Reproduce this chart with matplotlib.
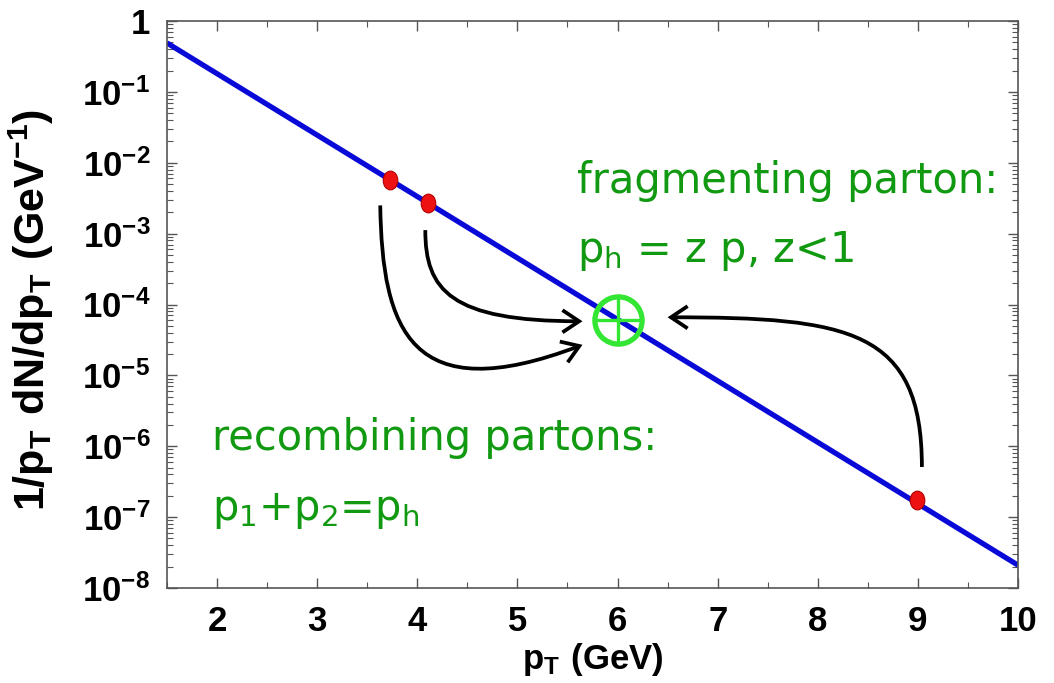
import numpy as np
import matplotlib
matplotlib.use("Agg")
import matplotlib.pyplot as plt
from matplotlib.path import Path
from matplotlib.patches import FancyArrowPatch
from matplotlib.ticker import LogLocator, FuncFormatter, MultipleLocator, NullFormatter

plt.rcParams["mathtext.fontset"] = "custom"
plt.rcParams["mathtext.rm"] = "DejaVu Sans"
plt.rcParams["mathtext.it"] = "DejaVu Sans"
plt.rcParams["mathtext.bf"] = "Liberation Sans:bold"

# spectrum (straight line on log scale)
line_pt = [1.5, 10.0]
line_yield = [0.49, 2.1e-8]

# recombining partons and fragmenting parton
parton_pt = [3.73, 4.11, 8.99]
parton_yield = [5.8e-3, 2.7e-3, 1.75e-7]

# produced hadron
hadron_pt = [6.0]
hadron_yield = [6.0e-5]

x_ticks = [2, 3, 4, 5, 6, 7, 8, 9, 10]

# curved arrows: cubic Bezier (start, ctrl1, ctrl2, end) in (pT, yield)
arrow_outer = [(3.63, 2.5e-3), (3.65, 4.4e-5), (3.93, 3.2e-6), (5.65, 2.7e-5)]
arrow_inner = [(4.08, 1.12e-3), (4.08, 1.6e-4), (4.33, 5.8e-5), (5.65, 5.8e-5)]
arrow_right = [(9.04, 5.1e-7), (9.04, 4.4e-5), (8.32, 6.6e-5), (6.50, 6.6e-5)]

green_text = "#119a11"
blue = "#0a0ad8"

fig = plt.figure(figsize=(10.54, 6.83), dpi=100)
ax = fig.add_axes([167 / 1054, 1 - 588 / 683, 851 / 1054, 567 / 683])
ax.set_yscale("log")
ax.set_xlim(1.5, 10)
ax.set_ylim(1e-8, 1)

ax.plot(line_pt, line_yield, color=blue, lw=3.8, solid_capstyle="butt", zorder=2)

# slightly tall elliptical markers
ell = Path.unit_circle().transformed(matplotlib.transforms.Affine2D().scale(0.78, 1.0))
ax.plot(parton_pt, parton_yield, ls="none", marker=ell, ms=13.5,
        mfc="#ee1111", mec="#b00000", mew=0.8, zorder=4)

ax.plot(hadron_pt, hadron_yield, ls="none", marker="o", ms=34, mfc="none",
        mec="#33e633", mew=3.8, zorder=5)
ax.plot(hadron_pt, hadron_yield, ls="none", marker="+", ms=33, mec="#33e633",
        mew=2.4, zorder=5)

codes = [Path.MOVETO, Path.CURVE4, Path.CURVE4, Path.CURVE4]
for pts in (arrow_outer, arrow_inner, arrow_right):
    arr = FancyArrowPatch(path=Path(pts, codes),
                          arrowstyle="->,head_length=0.6,head_width=0.4",
                          mutation_scale=20, lw=2.7, color="black",
                          joinstyle="miter", capstyle="butt",
                          transform=ax.transData, zorder=3)
    ax.add_patch(arr)

# annotations
tk = dict(color=green_text, fontsize=30, family="DejaVu Sans")
ax.text(0.4822, 0.6966, "fragmenting parton:", transform=ax.transAxes, **tk)
ax.text(0.4822, 0.575, r"$\mathrm{p_h}$ = z p, z<1", transform=ax.transAxes, **tk)
ax.text(0.0529, 0.2434, "recombining partons:", transform=ax.transAxes, **tk)
ax.text(0.0529, 0.12, r"$\mathrm{p_1}$+$\mathrm{p_2}$=$\mathrm{p_h}$",
        transform=ax.transAxes, **tk)

# axes styling
ax.set_xticks(x_ticks)
ax.xaxis.set_minor_locator(MultipleLocator(0.5))
ax.yaxis.set_major_locator(LogLocator(base=10, numticks=20))
ax.yaxis.set_minor_locator(LogLocator(base=10, subs=np.arange(2, 10), numticks=20))
ax.yaxis.set_minor_formatter(NullFormatter())


def dec_label(v, pos):
    e = int(round(np.log10(v)))
    if e == 0:
        return r"$\mathbf{1}$"
    return r"$\mathbf{10^{%d}}$" % e


ax.yaxis.set_major_formatter(FuncFormatter(dec_label))
ax.set_xticklabels([str(t) for t in x_ticks])

for lab in ax.get_xticklabels():
    lab.set_fontfamily("Liberation Sans")
    lab.set_fontweight("bold")
ax.tick_params(axis="both", which="both", direction="in", top=True, right=True,
               color="#555555")
ax.tick_params(axis="both", which="major", length=7, width=1.0)
ax.tick_params(axis="x", which="major", labelsize=25, pad=12)
ax.tick_params(axis="y", which="major", labelsize=25, pad=12)
ax.tick_params(axis="both", which="minor", length=4, width=0.8)

for sp in ax.spines.values():
    sp.set_color("#555555")
    sp.set_linewidth(1.2)

ax.set_xlabel(r"$\mathbf{p_T\ (GeV)}$", fontsize=25)
ax.xaxis.set_label_coords(0.5, -0.094)
ax.set_ylabel(r"$\mathbf{1/p_T\ dN/dp_T\ (GeV^{-1})}$", fontsize=31)
ax.yaxis.set_label_coords(-0.13, 0.49)

fig.savefig("out.png", dpi=100)
